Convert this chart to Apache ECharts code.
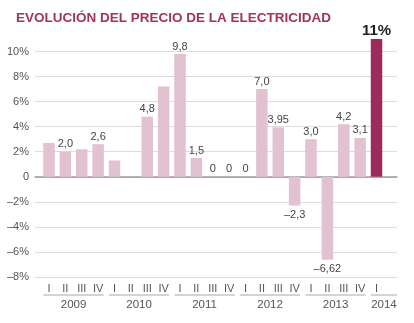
<!DOCTYPE html>
<html>
<head>
<meta charset="utf-8">
<script src="https://cdn.jsdelivr.net/npm/echarts@6/dist/echarts.min.js"></script>
<style>
  html, body { margin: 0; padding: 0; background: #fff; }
  #chart { width: 414px; height: 323px; }
</style>
</head>
<body>
<div id="chart"></div>
<script>
// Quarterly change in the electricity price (%), 2009 Q1 – 2014 Q1
const quarters = ['I', 'II', 'III', 'IV', 'I', 'II', 'III', 'IV', 'I', 'II', 'III', 'IV',
                  'I', 'II', 'III', 'IV', 'I', 'II', 'III', 'IV', 'I'];
const years = ['2009', '2010', '2011', '2012', '2013', '2014'];
const quartersPerYear = [4, 4, 4, 4, 4, 1];
const values = [2.7, 2.0, 2.2, 2.6, 1.3, null, 4.8, 7.2, 9.8, 1.5, 0, 0,
                0, 7.0, 3.95, -2.3, 3.0, -6.62, 4.2, 3.1, 11];
// decimals shown in each bar's value label (null = no label)
const labelDecimals = [null, 1, null, 1, null, null, 1, null, 1, 1, 0, 0,
                       0, 1, 2, 1, 1, 2, 1, 1, 0];
const yMin = -8, yMax = 10, yStep = 2;

const FONT = '"Liberation Sans", Arial, sans-serif';
const PINK = '#e2c2d0';
const DARK = '#9c2b5b';
const LINES = { left: 35, right: 17, top: 51.5, bottom: 46 };
const BARS = { left: 40.8, right: 29.3, top: 51.5, bottom: 46 };

function fmtNum(v, d) {
  const s = Math.abs(v).toFixed(d).replace('.', ',');
  return (v < 0 ? '\u2013' : '') + s;
}

const lastIdx = values.length - 1;
const barData = values.map((v, i) => {
  if (v === null) return null;
  const item = { value: v, itemStyle: { color: i === lastIdx ? DARK : PINK } };
  const d = labelDecimals[i];
  if (d === null) {
    item.label = { show: false };
  } else if (i === lastIdx) {
    item.label = {
      show: true, position: 'top', distance: 1,
      formatter: fmtNum(v, d) + '%',
      fontSize: 15, fontWeight: 'bold', color: '#222', fontFamily: FONT
    };
  } else {
    item.label = {
      show: true,
      position: v < 0 ? 'bottom' : 'top',
      distance: v < 0 ? 4 : 2,
      formatter: fmtNum(v, d),
      fontSize: 11, color: '#444', fontFamily: FONT
    };
  }
  return item;
});

// year groups: first and last quarter index of each year
const groups = [];
let start = 0;
quartersPerYear.forEach((n, k) => {
  groups.push([start, start + n - 1, k]);
  start += n;
});

const chart = echarts.init(document.getElementById('chart'), null, { renderer: 'canvas' });

chart.setOption({
  animation: false,
  backgroundColor: '#fff',
  title: {
    text: 'EVOLUCIÓN DEL PRECIO DE LA ELECTRICIDAD',
    left: 11, top: 6,
    textStyle: { fontFamily: FONT, fontSize: 13.5, fontWeight: 'bold', color: '#a0335f' }
  },
  grid: [
    Object.assign({}, LINES),
    Object.assign({}, BARS)
  ],
  xAxis: [
    {
      gridIndex: 0, type: 'value', min: 0, max: 1,
      axisLine: { show: true, onZero: true, lineStyle: { color: '#9a9a9a', width: 1.5 } },
      axisTick: { show: false }, axisLabel: { show: false }, splitLine: { show: false }
    },
    {
      gridIndex: 1, type: 'category', data: quarters,
      axisLine: { show: false }, axisTick: { show: false },
      axisLabel: { margin: 6, fontSize: 11, color: '#555', fontFamily: FONT, interval: 0 }
    }
  ],
  yAxis: [
    {
      gridIndex: 0, type: 'value', min: yMin, max: yMax, interval: yStep,
      axisLine: { show: false }, axisTick: { show: false },
      axisLabel: {
        margin: 6, fontSize: 11, color: '#555', fontFamily: FONT,
        formatter: v => v === 0 ? '0' : (v < 0 ? '\u2013' + (-v) : v) + '%'
      },
      splitLine: { lineStyle: { color: '#dcdcdc', width: 1 } }
    },
    {
      gridIndex: 1, type: 'value', min: yMin, max: yMax, interval: yStep,
      show: false
    }
  ],
  series: [
    {
      type: 'bar', xAxisIndex: 1, yAxisIndex: 1,
      barWidth: 11.5, clip: false,
      data: barData
    },
    {
      // year brackets under the quarter labels
      type: 'custom', xAxisIndex: 1, yAxisIndex: 1, clip: false,
      silent: true,
      data: groups,
      encode: { x: [0, 1] },
      renderItem: (params, api) => {
        const g = groups[params.dataIndex];
        const w = api.size([1, 0])[0];
        const p0 = api.coord([g[0], yMin]);
        const p1 = api.coord([g[1], yMin]);
        const x0 = p0[0] - 0.34 * w;
        let x1 = p1[0] + 0.34 * w;
        if (params.dataIndex === groups.length - 1) {
          x1 = api.getWidth() - LINES.right;
        }
        const yLine = p0[1] + 18;
        return {
          type: 'group',
          children: [
            {
              type: 'line',
              shape: { x1: x0, y1: yLine, x2: x1, y2: yLine },
              style: { stroke: '#aaaaaa', lineWidth: 1 }
            },
            {
              type: 'text',
              style: {
                x: (x0 + x1) / 2, y: yLine + 10,
                text: years[g[2]],
                fill: '#555', font: '11.5px ' + FONT,
                align: 'center', verticalAlign: 'middle'
              }
            }
          ]
        };
      }
    }
  ]
});
</script>
</body>
</html>
